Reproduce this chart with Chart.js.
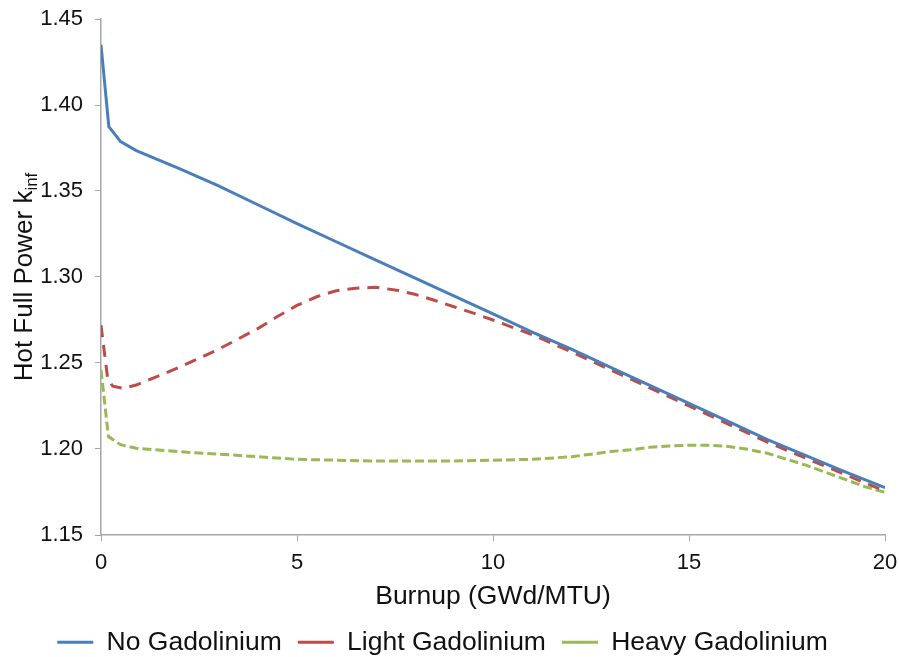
<!DOCTYPE html>
<html>
<head>
<meta charset="utf-8">
<script src="https://cdn.jsdelivr.net/npm/chart.js@4/dist/chart.umd.min.js"></script>
<style>
  html, body { margin: 0; padding: 0; background: #fff; }
  #wrap { width: 899px; height: 657px; }
</style>
</head>
<body>
<div id="wrap"><canvas id="kinf"></canvas></div>
<script>
// burnup points (GWd/MTU) and k-inf, one pair of arrays per case
const noGdX   = [0, 0.2, 0.5, 0.9, 2, 3, 4, 5, 6, 7, 8, 9, 10, 11, 12, 13, 14, 15, 16, 17, 18, 19, 20];
const noGd    = [1.435, 1.3874, 1.3787, 1.3735, 1.363, 1.353, 1.342, 1.331, 1.3205, 1.310, 1.2995, 1.289, 1.2785, 1.268, 1.258, 1.2475, 1.237, 1.2265, 1.216, 1.2055, 1.196, 1.1865, 1.1775];

const lightGdX = [0, 0.17, 0.3, 0.55, 0.9, 2, 3, 3.5, 4, 4.5, 5, 5.5, 6, 6.5, 7, 7.5, 8, 8.5, 9, 9.5, 10, 11, 12, 13, 14, 15, 16, 17, 18, 19, 20];
const lightGd  = [1.272, 1.241, 1.2365, 1.2353, 1.2372, 1.2475, 1.258, 1.264, 1.270, 1.277, 1.2835, 1.2885, 1.292, 1.2935, 1.294, 1.2925, 1.290, 1.2865, 1.2827, 1.279, 1.275, 1.2665, 1.2565, 1.246, 1.2355, 1.225, 1.2145, 1.204, 1.1945, 1.185, 1.1755];

const heavyGdX = [0, 0.19, 0.5, 0.9, 2, 3, 4, 5, 6, 7, 8, 9, 10, 11, 12, 12.5, 13, 13.5, 14, 14.5, 15, 15.5, 16, 16.5, 17, 17.5, 18, 18.5, 19, 19.5, 20];
const heavyGd  = [1.246, 1.2072, 1.2025, 1.2004, 1.1984, 1.197, 1.1955, 1.194, 1.1935, 1.193, 1.193, 1.193, 1.1935, 1.194, 1.1955, 1.197, 1.1985, 1.1995, 1.201, 1.2018, 1.2022, 1.2022, 1.2015, 1.1998, 1.1975, 1.194, 1.1905, 1.1863, 1.1822, 1.178, 1.1748];

const xTicks = [0, 5, 10, 15, 20];
const yTicks = [1.15, 1.20, 1.25, 1.30, 1.35, 1.40, 1.45];

const FONT = "'Liberation Sans', Arial, sans-serif";
const AXIS_GREY = '#a6a6a6';
const TEXT = '#111';

function pts(xs, ys) {
  return xs.map((x, i) => ({x: x, y: ys[i]}));
}

function series(label, xs, ys, color, dash) {
  return {
    label: label,
    data: pts(xs, ys),
    borderColor: color,
    backgroundColor: color,
    borderWidth: 3,
    borderDash: dash,
    pointRadius: 0,
    tension: 0,
    fill: false
  };
}

// y title needs a subscript, so draw it by hand
const yTitle = {
  id: 'yTitle',
  afterDraw(chart) {
    const ctx = chart.ctx;
    const area = chart.chartArea;
    const main = 'Hot Full Power k';
    const sub = 'inf';
    ctx.save();
    ctx.font = `26px ${FONT}`;
    const w1 = ctx.measureText(main).width;
    ctx.font = `17px ${FONT}`;
    const w2 = ctx.measureText(sub).width;
    const total = w1 + w2;
    ctx.translate(32, (area.top + area.bottom) / 2);
    ctx.rotate(-Math.PI / 2);
    ctx.fillStyle = TEXT;
    ctx.textBaseline = 'alphabetic';
    ctx.textAlign = 'left';
    ctx.font = `26px ${FONT}`;
    ctx.fillText(main, -total / 2, 0);
    ctx.font = `17px ${FONT}`;
    ctx.fillText(sub, -total / 2 + w1, 5);
    ctx.restore();
  }
};

new Chart(document.getElementById('kinf'), {
  type: 'line',
  data: {
    datasets: [
      series('No Gadolinium', noGdX, noGd, '#4a7ebb', []),
      series('Light Gadolinium', lightGdX, lightGd, '#be4b48', [12, 8]),
      series('Heavy Gadolinium', heavyGdX, heavyGd, '#98b954', [9, 4])
    ]
  },
  options: {
    responsive: true,
    maintainAspectRatio: false,
    animation: false,
    layout: {
      padding: {top: 19, right: 14, left: 0, bottom: 0}
    },
    plugins: {
      tooltip: {enabled: false},
      legend: {
        position: 'bottom',
        maxHeight: 44,
        labels: {
          usePointStyle: true,
          pointStyle: 'line',
          pointStyleWidth: 36,
          boxHeight: 26,
          padding: 16,
          color: TEXT,
          font: {family: FONT, size: 26.5}
        }
      }
    },
    scales: {
      x: {
        type: 'linear',
        min: 0,
        max: 20,
        afterBuildTicks: (s) => { s.ticks = xTicks.map(v => ({value: v})); },
        afterFit: (s) => { s.height = 78; s.paddingLeft = 0; s.paddingRight = 0; },
        grid: {drawOnChartArea: false, tickLength: 6, color: AXIS_GREY},
        border: {color: AXIS_GREY, width: 1.5},
        ticks: {
          padding: 9,
          color: TEXT,
          font: {family: FONT, size: 22},
          maxRotation: 0
        },
        title: {
          display: true,
          text: 'Burnup (GWd/MTU)',
          color: TEXT,
          font: {family: FONT, size: 26.5},
          padding: {top: 0, bottom: 0}
        }
      },
      y: {
        min: 1.15,
        max: 1.45,
        afterBuildTicks: (s) => { s.ticks = yTicks.map(v => ({value: v})); },
        afterFit: (s) => { s.width = 101; s.paddingTop = 0; s.paddingBottom = 0; },
        grid: {drawOnChartArea: false, tickLength: 6, color: AXIS_GREY},
        border: {color: AXIS_GREY, width: 1.5},
        ticks: {
          padding: 12,
          color: TEXT,
          font: {family: FONT, size: 22},
          callback: (v) => v.toFixed(2)
        }
      }
    }
  },
  plugins: [yTitle]
});
</script>
</body>
</html>
